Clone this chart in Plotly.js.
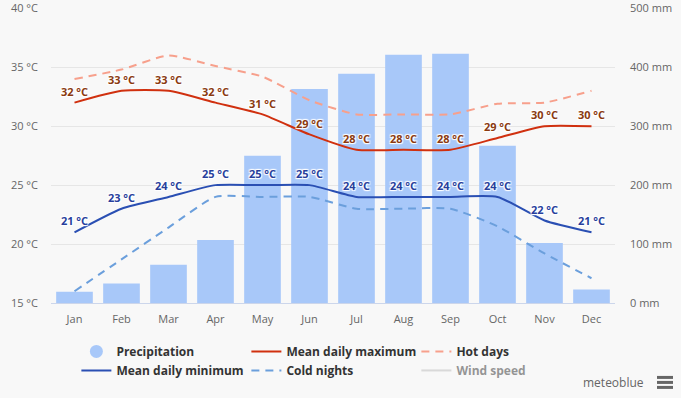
<!DOCTYPE html>
<html>
<head>
<meta charset="utf-8">
<script src="https://cdn.plot.ly/plotly-3.0.1.min.js"></script>
<style>
  html, body { margin: 0; padding: 0; background: #f8f8f8; }
  #chart { width: 681px; height: 398px; }
</style>
</head>
<body>
<div id="chart"></div>
<script>
const months = ['Jan','Feb','Mar','Apr','May','Jun','Jul','Aug','Sep','Oct','Nov','Dec'];
const precipitation = [19, 33, 65, 107, 250, 363, 389, 421, 423, 267, 102, 23];
const meanMax = [32, 33, 33, 32, 31, 29.3, 28, 28, 28, 29, 30, 30];
const meanMin = [21, 23, 24, 25, 25, 25, 24, 24, 24, 24, 22, 21];
const hotDays = [34, 34.8, 36, 35.1, 34.2, 32.2, 31, 31, 31, 31.9, 32, 33];
const coldNights = [16, 18.7, 21.4, 24, 24, 24, 23, 23, 23, 21.5, 19.2, 17.1];
const windSpeed = [null, null, null, null, null, null, null, null, null, null, null, null];
const tempTicks = [15, 20, 25, 30, 35, 40];
const precipTicks = [0, 100, 200, 300, 400, 500];

const FONT = 'Open Sans, DejaVu Sans, sans-serif';
const halo = '-1px -1px 1px #fff, 1px -1px 1px #fff, -1px 1px 1px #fff, 1px 1px 1px #fff';
const SMOOTH = 0.55;

const traces = [
  { type: 'bar', name: 'Precipitation', x: months, y: precipitation, yaxis: 'y',
    marker: { color: '#a8c8f9' }, showlegend: false, hoverinfo: 'y' },
  { type: 'scatter', mode: 'markers', name: 'Precipitation', x: [null], y: [null], yaxis: 'y2',
    marker: { symbol: 'circle', size: 13, color: '#a8c8f9' }, legendrank: 1 },
  { type: 'scatter', mode: 'lines+markers+text', name: 'Mean daily maximum', x: months, y: meanMax, yaxis: 'y2',
    line: { color: '#d0300f', width: 2, shape: 'spline', smoothing: SMOOTH },
    marker: { size: 5, color: 'rgba(0,0,0,0)' },
    texttemplate: '%{y:.0f} °C', textposition: 'top center', cliponaxis: false,
    textfont: { family: FONT, size: 11, weight: 'bold', color: '#8a3a10', shadow: halo },
    legendrank: 2 },
  { type: 'scatter', mode: 'lines', name: 'Hot days', x: months, y: hotDays, yaxis: 'y2',
    line: { color: '#f7a08c', width: 2, dash: '8px,6px', shape: 'spline', smoothing: SMOOTH },
    legendrank: 3 },
  { type: 'scatter', mode: 'lines+markers+text', name: 'Mean daily minimum', x: months, y: meanMin, yaxis: 'y2',
    line: { color: '#2a4fb3', width: 2, shape: 'spline', smoothing: SMOOTH },
    marker: { size: 5, color: 'rgba(0,0,0,0)' },
    texttemplate: '%{y:.0f} °C', textposition: 'top center', cliponaxis: false,
    textfont: { family: FONT, size: 11, weight: 'bold', color: '#283f9c', shadow: halo },
    legendrank: 4 },
  { type: 'scatter', mode: 'lines', name: 'Cold nights', x: months, y: coldNights, yaxis: 'y2',
    line: { color: '#6b9fdc', width: 2, dash: '8px,6px', shape: 'spline', smoothing: SMOOTH },
    legendrank: 5 },
  { type: 'scatter', mode: 'lines', name: 'Wind speed', x: months, y: windSpeed, yaxis: 'y2',
    line: { color: '#bbbbbb', width: 2 }, visible: 'legendonly', legendrank: 6 }
];

const layout = {
  width: 681, height: 398,
  margin: { l: 51, r: 66, t: 8, b: 95, autoexpand: false },
  paper_bgcolor: '#f8f8f8', plot_bgcolor: '#f8f8f8',
  font: { family: FONT, size: 11, color: '#666' },
  bargap: 0.22,
  showlegend: true,
  xaxis: {
    type: 'category', range: [-0.5, 11.5], fixedrange: true,
    showline: true, linecolor: '#ccd6eb', linewidth: 1,
    showgrid: false, zeroline: false, ticks: '',
    tickfont: { family: FONT, size: 11, color: '#666' }, ticklabelstandoff: 6
  },
  yaxis: {
    side: 'right', range: [0, 500.5], tickmode: 'array', tickvals: precipTicks,
    ticktext: precipTicks.map(v => v + ' mm'),
    showgrid: true, gridcolor: '#e6e6e6', gridwidth: 1,
    zeroline: false, showline: false, ticks: '', ticklabeloverflow: 'allow',
    tickfont: { family: FONT, size: 11, color: '#666' }, ticklabelstandoff: 14
  },
  yaxis2: {
    overlaying: 'y', side: 'left', range: [15, 40.025], tickmode: 'array', tickvals: tempTicks,
    ticktext: tempTicks.map(v => v + ' °C'),
    showgrid: false, zeroline: false, showline: false, ticks: '', ticklabeloverflow: 'allow',
    tickfont: { family: FONT, size: 11, color: '#666' }, ticklabelstandoff: 12
  },
  legend: {
    orientation: 'h', x: 0.045, xanchor: 'left', y: -0.115, yanchor: 'top',
    entrywidth: 125, entrywidthmode: 'pixels',
    font: { family: FONT, size: 12, weight: 'bold', color: '#333' },
    bgcolor: 'rgba(0,0,0,0)', itemclick: false, itemdoubleclick: false,
    traceorder: 'normal'
  },
  annotations: [
    { xref: 'paper', yref: 'paper', x: 1.055, y: -0.268, xanchor: 'right', yanchor: 'middle',
      text: 'meteoblue', showarrow: false, font: { family: FONT, size: 12, color: '#666' } }
  ],
  shapes: [0, 1, 2].map(i => ({
    type: 'rect', xref: 'paper', yref: 'paper',
    x0: (657 - 51) / 564, x1: (673 - 51) / 564,
    y0: -(376 + i * 5 - 303) / 295.3, y1: -(379 + i * 5 - 303) / 295.3,
    fillcolor: '#666', line: { width: 0 }
  }))
};

Plotly.newPlot('chart', traces, layout, { displayModeBar: false, staticPlot: true });
</script>
</body>
</html>
